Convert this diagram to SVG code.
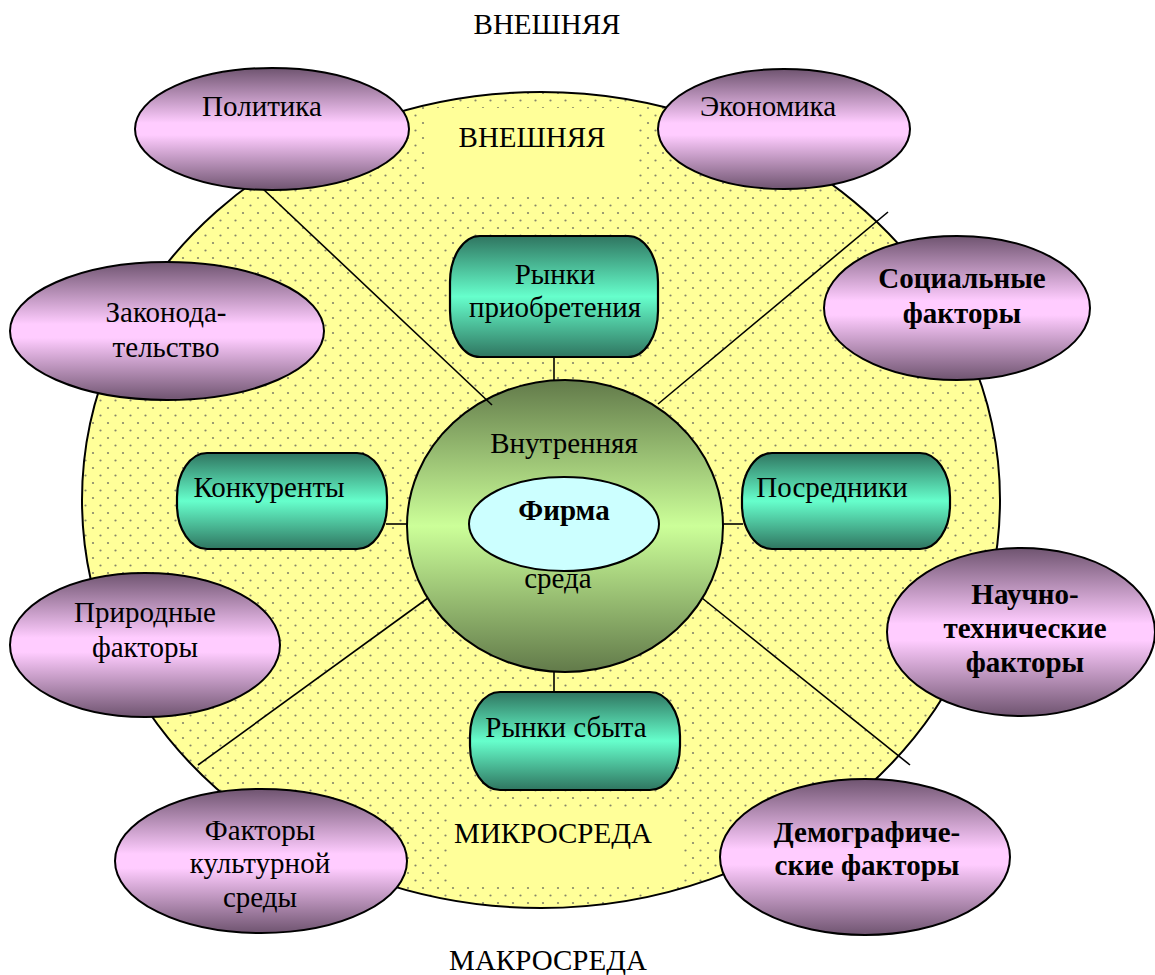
<svg xmlns="http://www.w3.org/2000/svg" width="1155" height="975" viewBox="0 0 1155 975">
  <style>
    text { font-family: "Liberation Serif", "Times New Roman", "DejaVu Serif", serif; font-size: 29px; fill: #000; text-anchor: middle; }
    .b { font-weight: bold; }
    .edge { stroke: #000; stroke-width: 2; }
    .conn { stroke: #000; stroke-width: 1.6; fill: none; }
    .macro { fill: url(#gMacro); stroke: #000; stroke-width: 2; }
    .micro { fill: url(#gMicro); stroke: #000; stroke-width: 2.2; }
  </style>
  <defs>
    <pattern id="dots" width="15" height="15" patternUnits="userSpaceOnUse">
      <rect width="15" height="15" fill="#FFFF99"/>
      <circle cx="3" cy="3" r="1.1" fill="#85856a"/>
      <circle cx="10.5" cy="10.5" r="1.1" fill="#85856a"/>
    </pattern>
    <linearGradient id="gMacro" x1="0" y1="0" x2="0" y2="1">
      <stop offset="0" stop-color="#6f5470"/>
      <stop offset="0.45" stop-color="#ffccff"/>
      <stop offset="0.55" stop-color="#ffccff"/>
      <stop offset="1" stop-color="#6f5470"/>
    </linearGradient>
    <linearGradient id="gMicro" x1="0" y1="0" x2="0" y2="1">
      <stop offset="0" stop-color="#2f7560"/>
      <stop offset="0.5" stop-color="#66ffcc"/>
      <stop offset="1" stop-color="#2f7560"/>
    </linearGradient>
    <linearGradient id="gInner" x1="0" y1="0" x2="0" y2="1">
      <stop offset="0" stop-color="#627a4a"/>
      <stop offset="0.5" stop-color="#ccff99"/>
      <stop offset="1" stop-color="#627a4a"/>
    </linearGradient>
  </defs>

  <rect width="1155" height="975" fill="#fff"/>

  <!-- outer environment -->
  <g id="macro-env">
    <ellipse cx="541" cy="500" rx="459" ry="408" fill="url(#dots)" class="edge"/>
    <rect x="428" y="108" width="208" height="84" fill="#FFFF99"/>
    <rect x="450" y="808" width="233" height="77" fill="#FFFF99"/>
  </g>

  <!-- internal environment -->
  <g id="inner-env">
    <ellipse cx="565" cy="526" rx="158" ry="146" fill="url(#gInner)" class="edge"/>
  </g>

  <!-- connectors -->
  <g id="connectors">
    <line class="conn" x1="262" y1="188" x2="492" y2="405"/>
    <line class="conn" x1="888" y1="212" x2="658" y2="404"/>
    <line class="conn" x1="198" y1="765" x2="428" y2="598"/>
    <line class="conn" x1="702" y1="598" x2="910" y2="765"/>
    <line class="conn" x1="554" y1="357" x2="554" y2="380"/>
    <line class="conn" x1="554" y1="672" x2="554" y2="692"/>
    <line class="conn" x1="386" y1="524" x2="407" y2="524"/>
    <line class="conn" x1="722" y1="524" x2="743" y2="524"/>
  </g>

  <g id="firm">
    <ellipse cx="564" cy="524" rx="95" ry="47" fill="#ccffff" class="edge"/>
  </g>

  <!-- microenvironment blocks -->
  <g id="buy-markets">
    <rect class="micro" x="450" y="236" width="208" height="121" rx="30" ry="46"/>
    <text x="555" y="284">Рынки</text>
    <text x="555" y="317">приобретения</text>
  </g>
  <g id="competitors">
    <rect class="micro" x="177" y="453" width="210" height="96" rx="30" ry="44"/>
    <text x="269" y="497">Конкуренты</text>
  </g>
  <g id="intermediaries">
    <rect class="micro" x="742" y="453" width="208" height="96" rx="30" ry="44"/>
    <text x="832" y="497">Посредники</text>
  </g>
  <g id="sales-markets">
    <rect class="micro" x="470" y="692" width="210" height="98" rx="30" ry="44"/>
    <text x="566" y="737">Рынки сбыта</text>
  </g>

  <!-- macroenvironment factors -->
  <g id="politics">
    <ellipse class="macro" cx="272" cy="129" rx="137" ry="61"/>
    <text x="262" y="116">Политика</text>
  </g>
  <g id="economy">
    <ellipse class="macro" cx="784" cy="129" rx="126" ry="60"/>
    <text x="768" y="116">Экономика</text>
  </g>
  <g id="legislation">
    <ellipse class="macro" cx="167" cy="331" rx="157" ry="69"/>
    <text x="166" y="322">Законода-</text>
    <text x="166" y="357">тельство</text>
  </g>
  <g id="social">
    <ellipse class="macro" cx="957" cy="308" rx="133" ry="72"/>
    <text class="b" x="962" y="288">Социальные</text>
    <text class="b" x="962" y="323">факторы</text>
  </g>
  <g id="natural">
    <ellipse class="macro" cx="145" cy="645" rx="135" ry="72"/>
    <text x="145" y="622">Природные</text>
    <text x="145" y="657">факторы</text>
  </g>
  <g id="scitech">
    <ellipse class="macro" cx="1021" cy="632" rx="134" ry="84"/>
    <text class="b" x="1025" y="604">Научно-</text>
    <text class="b" x="1025" y="638">технические</text>
    <text class="b" x="1025" y="672">факторы</text>
  </g>
  <g id="culture">
    <ellipse class="macro" cx="261" cy="861" rx="146" ry="72"/>
    <text x="260" y="840">Факторы</text>
    <text x="260" y="873">культурной</text>
    <text x="260" y="907">среды</text>
  </g>
  <g id="demography">
    <ellipse class="macro" cx="865" cy="857" rx="145" ry="78"/>
    <text class="b" x="867" y="842">Демографиче-</text>
    <text class="b" x="867" y="875">ские факторы</text>
  </g>

  <!-- labels -->
  <g id="labels">
    <text x="547" y="34">ВНЕШНЯЯ</text>
    <text x="532" y="147">ВНЕШНЯЯ</text>
    <text x="564" y="453">Внутренняя</text>
    <text class="b" x="564" y="520">Фирма</text>
    <text x="558" y="588">среда</text>
    <text x="553" y="843">МИКРОСРЕДА</text>
    <text x="548" y="970">МАКРОСРЕДА</text>
  </g>
</svg>
